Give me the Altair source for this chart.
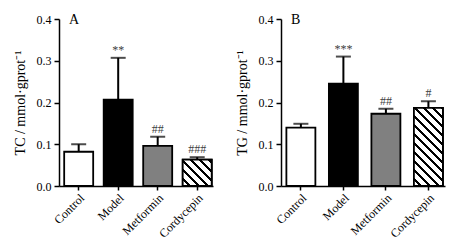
import math
import altair as alt
import pandas as pd

categories = ["Control", "Model", "Metformin", "Cordycepin"]
tc_mean = [0.082, 0.207, 0.096, 0.063]
tc_err = [0.018, 0.100, 0.022, 0.006]
tc_sig = ["", "**", "##", "###"]
tg_mean = [0.140, 0.245, 0.173, 0.187]
tg_err = [0.009, 0.065, 0.012, 0.016]
tg_sig = ["", "***", "##", "#"]
fills = ["#ffffff", "#000000", "#808080", "#ffffff"]
y_ticks = [0.0, 0.1, 0.2, 0.3, 0.4]
y_max = 0.4

FONT = "Liberation Serif"
H = 167


def hatch(width_px, height_px, spacing=9.0, black=0.36):
    r = width_px / height_px
    a = (1 + r) / (1 + r * r)
    b = a * r
    n = (width_px + height_px) / spacing
    stops = []
    for i in range(int(math.ceil(n))):
        s = min(i / n, 1)
        m = min((i + 1 - black) / n, 1)
        e = min((i + 1) / n, 1)
        stops += [
            alt.GradientStop(offset=s, color="#ffffff"),
            alt.GradientStop(offset=m, color="#ffffff"),
            alt.GradientStop(offset=m, color="#000000"),
            alt.GradientStop(offset=e, color="#000000"),
        ]
    return alt.LinearGradient(gradient="linear", stops=stops,
                              x1=0, y1=1, x2=b, y2=1 - a)


def panel(means, errs, sigs, title, letter, width, p_in, p_out, align):
    df = pd.DataFrame({
        "group": categories,
        "mean": means,
        "top": [m + e for m, e in zip(means, errs)],
        "sig": sigs,
        "fill": fills,
    })
    step = width / (len(categories) - p_in + 2 * p_out)
    bw = step * (1 - p_in)
    x = alt.X("group:N", sort=categories,
              scale=alt.Scale(domain=categories, paddingInner=p_in,
                              paddingOuter=p_out, align=align),
              axis=alt.Axis(title=None, labelAngle=-45, labelFontSize=12,
                            tickSize=4, labelPadding=2))
    y = alt.Y("mean:Q",
              scale=alt.Scale(domain=[0, y_max], nice=False, zero=True),
              axis=alt.Axis(title=title, values=y_ticks, format=".1f",
                            labelFontSize=12, tickSize=5, labelPadding=3,
                            titleFontSize=14, titlePadding=9))
    base = alt.Chart(df)
    bars = base.mark_bar(stroke="black", strokeWidth=1.8).encode(
        x=x, y=y, fill=alt.Fill("fill:N", scale=None))
    hpx = means[3] / y_max * H
    hatched = base.transform_filter(alt.datum.group == "Cordycepin").mark_bar(
        stroke="black", strokeWidth=1.8, fill=hatch(bw, hpx)).encode(x=x, y=y)
    err = base.mark_rule(color="black", strokeWidth=2).encode(
        x=x, y="mean:Q", y2="top:Q")
    cap = base.mark_tick(color="black", thickness=2, size=15,
                         orient="horizontal").encode(x=x, y="top:Q")
    sig = base.mark_text(font=FONT, fontSize=12, color="#404040", dy=-4,
                         baseline="alphabetic").encode(
        x=x, y="top:Q", text="sig:N")
    lab = alt.Chart(pd.DataFrame({"t": [letter]})).mark_text(
        font=FONT, fontSize=14, color="black", align="left",
        baseline="alphabetic").encode(
        x=alt.value(10), y=alt.value(5), text="t:N")
    return alt.layer(bars, hatched, err, cap, sig, lab).properties(
        width=width, height=H)


a = panel(tc_mean, tc_err, tc_sig, "TC / mmol·gprot⁻¹", "A", 154, 0.266, 0.082, 0.8)
b = panel(tg_mean, tg_err, tg_sig, "TG / mmol·gprot⁻¹", "B", 164, 0.318, 0.088, 0.72)

chart = alt.hconcat(a, b, spacing=22).configure_axis(
    labelFont=FONT, titleFont=FONT, labelColor="black", titleColor="black",
    domainColor="black", tickColor="black", domainWidth=1.5, tickWidth=1.5,
    grid=False, titleFontWeight="normal",
).configure_view(stroke=None).properties(background="white")

chart.save("out.html", embed_options={"renderer": "svg", "actions": False})
